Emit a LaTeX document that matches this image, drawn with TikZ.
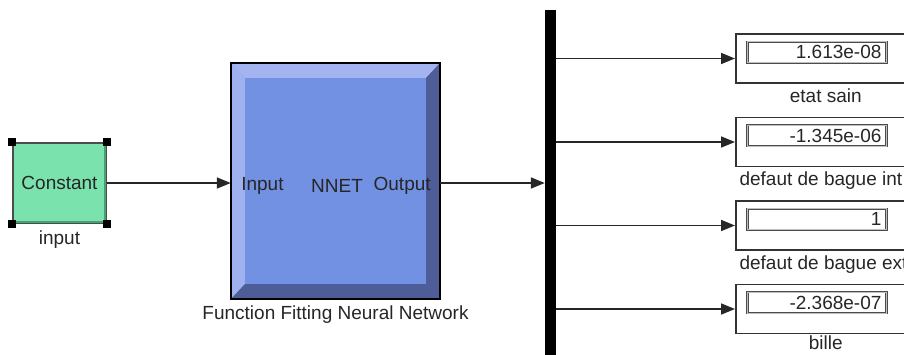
\documentclass[tikz,border=0pt]{standalone}
\usepackage{fontspec}
\setmainfont{Liberation Sans}
\usetikzlibrary{positioning,arrows.meta}

\definecolor{constgreen}{RGB}{122,226,172}
\definecolor{constdark}{RGB}{72,160,118}
\definecolor{nnetface}{RGB}{114,145,226}
\definecolor{nnetlight}{RGB}{163,180,240}
\definecolor{nnetdark}{RGB}{78,93,152}

\tikzset{
  lbl/.style={font=\fontsize{19}{21}\selectfont, text=black!85},
  wire/.style={draw=black!85, line width=1.6pt, -{Triangle[length=14pt,width=11pt]}},
  disp/.style={draw=black!80, line width=1.5pt, fill=white, minimum width=180pt, minimum height=49pt, inner sep=0pt},
  field/.style={lbl, draw=black!70, double=black!25, double distance=0.6pt, line width=0.9pt, minimum height=21pt, text width=129pt, inner xsep=5pt, inner ysep=0pt, align=right}
}

\begin{document}
\begin{tikzpicture}[x=1pt, y=-1pt]
\useasboundingbox (0,0) rectangle (904,354);
\clip (0,0) rectangle (904,354);

\node[draw=black!70, line width=1.5pt, fill=constgreen, minimum width=93pt, minimum height=80pt, inner sep=0pt, lbl] (const) at (59.5,183) {Constant};
\draw[constdark, line width=2.5pt] ([shift={(2pt,2pt)}]const.south west) -- ([shift={(-2pt,2pt)}]const.south east) -- ([shift={(-2pt,-2pt)}]const.north east);
\foreach \c in {north west,north east,south west,south east}
  \fill (const.\c) ++(-4pt,-4pt) rectangle ++(8pt,8pt);
\node[lbl, below=3pt of const] (constlbl) {input};

\node[fill=nnetface, minimum width=209pt, minimum height=236pt, inner sep=0pt] (nnet) at (335.5,181) {};
\node[minimum width=181pt, minimum height=206pt, inner sep=0pt] (face) at (335.5,181) {};
\fill[nnetlight] (nnet.north west) -- (nnet.north east) -- (face.north east) -- (face.north west) -- cycle;
\fill[nnetlight!92!nnetface] (nnet.north west) -- (face.north west) -- (face.south west) -- (nnet.south west) -- cycle;
\fill[nnetdark] (nnet.north east) -- (nnet.south east) -- (face.south east) -- (face.north east) -- cycle;
\fill[nnetdark] (nnet.south west) -- (nnet.south east) -- (face.south east) -- (face.south west) -- cycle;
\draw[line width=1.5pt] (nnet.north west) rectangle (nnet.south east);
\node[lbl, right=7pt of nnet.west, yshift=-5pt] (nnetin) {Input};
\node[lbl, yshift=-5pt] (nnetname) at ([xshift=1.5pt]nnet.center) {NNET};
\node[lbl, left=6pt of nnet.east, yshift=-5pt] (nnetout) {Output};
\node[lbl, below=3pt of nnet] (nnetlbl) {Function Fitting Neural Network};

\node[fill=black, minimum width=11pt, minimum height=350pt, inner sep=0pt] (bus) at (550.5,185) {};

\draw[wire] (const.east) -- (nnet.west |- const.east);
\draw[wire] (nnet.east |- const.east) -- (bus.west |- const.east);

\node[disp, anchor=west] (d1) at (735,58.5) {};
\node[disp, below=33pt of d1] (d2) {};
\node[disp, below=33pt of d2] (d3) {};
\node[disp, below=33pt of d3] (d4) {};

\node[field, below right=8pt and 12pt of d1.north west] (f1) {1.613e-08};
\node[field, below right=8pt and 12pt of d2.north west] (f2) {-1.345e-06};
\node[field, below right=8pt and 12pt of d3.north west] (f3) {1};
\node[field, below right=8pt and 12pt of d4.north west] (f4) {-2.368e-07};

\node[lbl, below=1pt of d1] (l1) {etat sain};
\node[lbl, below right=1pt and 1pt of d2.south west] (l2) {defaut de bague int};
\node[lbl, below right=1pt and 1pt of d3.south west] (l3) {defaut de bague ext};
\node[lbl, below=-2pt of d4] (l4) {bille};

\foreach \d in {d1,d2,d3,d4}
  \draw[wire] (bus.east |- \d.west) -- (\d.west);
\end{tikzpicture}
\end{document}
